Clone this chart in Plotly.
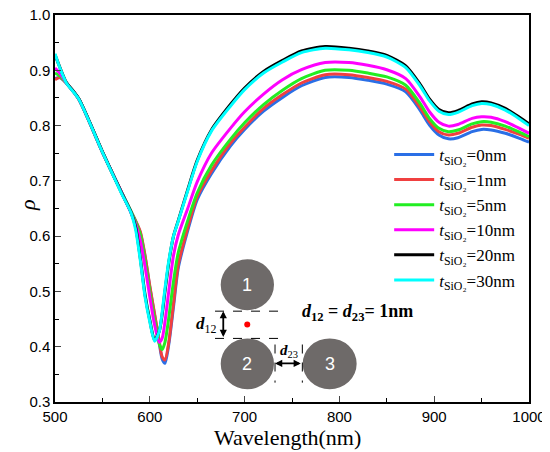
import plotly.graph_objects as go

# wavelength grid (nm) and reflectance for each SiO2 shell thickness
wavelength = [500, 505, 512, 525, 550, 570, 580, 585, 590, 595, 600, 605, 610, 613, 616, 620, 625, 630,
              640, 650, 665, 685, 700, 720, 740, 760, 785, 810, 830, 850, 870, 885, 895, 905, 915, 925,
              940, 950, 960, 975, 990, 1000]

rho_0nm = [0.885, 0.887, 0.877, 0.848, 0.752, 0.680, 0.645, 0.627, 0.606, 0.563, 0.508, 0.458, 0.406, 0.378, 0.370, 0.404,
           0.472, 0.542, 0.610, 0.666, 0.713, 0.763, 0.793, 0.826, 0.851, 0.872, 0.887, 0.887, 0.882, 0.875,
           0.861, 0.828, 0.801, 0.783, 0.776, 0.778, 0.789, 0.793, 0.792, 0.786, 0.777, 0.770]
rho_1nm = [0.883, 0.887, 0.877, 0.848, 0.752, 0.680, 0.645, 0.628, 0.608, 0.565, 0.510, 0.460, 0.410, 0.382, 0.376, 0.408,
           0.478, 0.548, 0.615, 0.671, 0.718, 0.768, 0.797, 0.831, 0.856, 0.877, 0.892, 0.892, 0.887, 0.880,
           0.866, 0.833, 0.807, 0.789, 0.783, 0.786, 0.797, 0.801, 0.800, 0.793, 0.784, 0.777]
rho_5nm = [0.895, 0.890, 0.877, 0.848, 0.752, 0.680, 0.645, 0.626, 0.603, 0.557, 0.500, 0.450, 0.405, 0.395, 0.408, 0.452,
           0.518, 0.570, 0.628, 0.678, 0.728, 0.775, 0.805, 0.838, 0.864, 0.885, 0.900, 0.900, 0.895, 0.888,
           0.873, 0.840, 0.813, 0.795, 0.789, 0.792, 0.803, 0.807, 0.806, 0.799, 0.788, 0.780]
rho_10nm = [0.904, 0.895, 0.877, 0.848, 0.752, 0.680, 0.643, 0.622, 0.592, 0.545, 0.490, 0.440, 0.408, 0.415, 0.445, 0.500,
            0.565, 0.602, 0.650, 0.698, 0.750, 0.795, 0.825, 0.857, 0.883, 0.901, 0.914, 0.914, 0.909, 0.901,
            0.885, 0.852, 0.825, 0.806, 0.799, 0.802, 0.813, 0.816, 0.815, 0.807, 0.795, 0.786]
rho_20nm = [0.928, 0.906, 0.878, 0.849, 0.753, 0.679, 0.644, 0.617, 0.560, 0.494, 0.448, 0.412, 0.428, 0.458, 0.500, 0.552,
            0.600, 0.628, 0.684, 0.737, 0.792, 0.838, 0.868, 0.898, 0.918, 0.935, 0.943, 0.940, 0.935, 0.927,
            0.908, 0.875, 0.848, 0.829, 0.823, 0.827, 0.839, 0.843, 0.841, 0.831, 0.815, 0.803]
rho_30nm = [0.930, 0.905, 0.877, 0.848, 0.752, 0.678, 0.643, 0.612, 0.556, 0.490, 0.445, 0.410, 0.428, 0.462, 0.505, 0.555,
            0.600, 0.627, 0.682, 0.735, 0.790, 0.835, 0.865, 0.895, 0.915, 0.932, 0.940, 0.937, 0.932, 0.924,
            0.905, 0.872, 0.845, 0.826, 0.820, 0.824, 0.836, 0.840, 0.838, 0.828, 0.812, 0.800]

series = [("0nm", rho_0nm, "#2a6fe6"),
          ("1nm", rho_1nm, "#f04040"),
          ("5nm", rho_5nm, "#22ee22"),
          ("10nm", rho_10nm, "#ff00ff"),
          ("20nm", rho_20nm, "#000000"),
          ("30nm", rho_30nm, "#00ffff")]

fig = go.Figure()
for label, vals, col in series:
    fig.add_trace(go.Scatter(x=wavelength, y=vals, mode="lines",
                             line=dict(color=col, width=3, shape="spline", smoothing=0.7),
                             name="<i>t</i><sub>SiO₂</sub>=" + label))

axis_font = dict(family="Liberation Sans, Arial", size=15, color="black")
fig.update_xaxes(range=[500, 1000], dtick=100, ticks="inside", ticklen=6, tickwidth=1.3,
                 showline=True, linecolor="black", linewidth=1.5, mirror=True, showgrid=False,
                 zeroline=False, tickfont=axis_font, automargin=False, ticklabeloverflow="allow",
                 minor=dict(ticks="inside", dtick=50, ticklen=4, tickcolor="black"))
fig.update_yaxes(range=[0.3, 1.0], dtick=0.1, tickformat=".1f", ticks="inside", ticklen=6, tickwidth=1.3,
                 showline=True, linecolor="black", linewidth=1.5, mirror=True, showgrid=False,
                 zeroline=False, tickfont=axis_font, automargin=False, ticklabeloverflow="allow",
                 minor=dict(ticks="inside", dtick=0.05, ticklen=4, tickcolor="black"))

# inset: nanoparticle trimer sketch
grey = "#6e6a69"
shapes = [
    dict(type="circle", x0=674.8, x1=731.0, y0=0.466, y1=0.558, fillcolor=grey, line_width=0),
    dict(type="circle", x0=674.8, x1=731.0, y0=0.323, y1=0.415, fillcolor=grey, line_width=0),
    dict(type="circle", x0=761.3, x1=818.2, y0=0.323, y1=0.415, fillcolor=grey, line_width=0),
    dict(type="line", x0=668.8, x1=739.1, y0=0.4643, y1=0.4643, line=dict(color="black", width=1, dash="dash")),
    dict(type="line", x0=668.8, x1=739.1, y0=0.415, y1=0.415, line=dict(color="black", width=1, dash="dash")),
    dict(type="line", x0=732.1, x1=732.1, y0=0.404, y1=0.335, line=dict(color="black", width=1, dash="dash")),
    dict(type="line", x0=760.9, x1=760.9, y0=0.404, y1=0.335, line=dict(color="black", width=1, dash="dash")),
]
serif = "Liberation Serif, Times New Roman"
annotations = [
    dict(x=702.9, y=0.512, text="1", showarrow=False, font=dict(family="Liberation Sans", size=18, color="white")),
    dict(x=702.9, y=0.369, text="2", showarrow=False, font=dict(family="Liberation Sans", size=18, color="white")),
    dict(x=789.7, y=0.369, text="3", showarrow=False, font=dict(family="Liberation Sans", size=18, color="white")),
    # double arrows
    dict(x=677.5, y=0.4643, ax=677.5, ay=0.415, axref="x", ayref="y", text="", showarrow=True,
         arrowhead=2, arrowside="end+start", arrowwidth=1.8, arrowsize=0.8, arrowcolor="black"),
    dict(x=732.1, y=0.3698, ax=760.9, ay=0.3698, axref="x", ayref="y", text="", showarrow=True,
         arrowhead=2, arrowside="end+start", arrowwidth=1.8, arrowsize=0.8, arrowcolor="black"),
    dict(x=659, y=0.44, text="<b><i>d</i></b><sub>12</sub>", showarrow=False,
         font=dict(family=serif, size=17, color="black")),
    dict(x=746.5, y=0.392, text="<b><i>d</i></b><sub>23</sub>", showarrow=False,
         font=dict(family=serif, size=15, color="black")),
    dict(x=819.6, y=0.462, text="<b><i>d</i><sub>12</sub> = <i>d</i><sub>23</sub>= 1nm</b>", showarrow=False,
         font=dict(family=serif, size=18, color="black")),
    # axis titles
    dict(xref="paper", yref="paper", x=0.49, y=0, yanchor="middle", yshift=-35, text="Wavelength(nm)",
         showarrow=False, font=dict(family=serif, size=22, color="black")),
    dict(xref="paper", yref="paper", x=-0.089, y=0.51, textangle=-90, text="<i>ρ</i>",
         showarrow=False, font=dict(family=serif, size=22, color="black")),
]

fig.add_trace(go.Scatter(x=[702.8], y=[0.4402], mode="markers", showlegend=False,
                         marker=dict(color="red", size=6)))

# the page body adds an 8 px offset, so width/height and left/top margins are 8 px smaller
fig.update_layout(width=542, height=444, plot_bgcolor="white", paper_bgcolor="white",
                  margin=dict(l=47, r=21, t=7, b=50),
                  shapes=shapes, annotations=annotations,
                  legend=dict(x=0.705, y=0.685, xanchor="left", yanchor="top", bgcolor="rgba(0,0,0,0)",
                              font=dict(family=serif, size=17, color="black"),
                              tracegroupgap=0, itemwidth=40))

fig.write_html("out.html")
